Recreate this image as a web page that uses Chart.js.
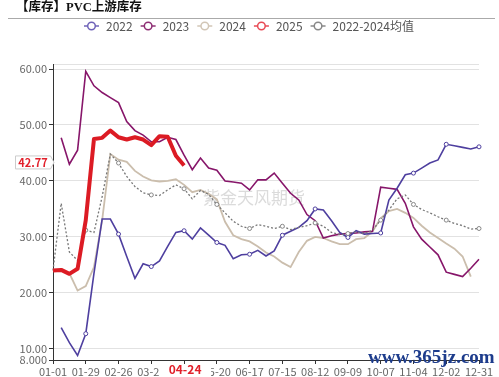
<!DOCTYPE html>
<html lang="zh-CN">
<head>
<meta charset="utf-8">
<title>PVC上游库存</title>
<script src="https://cdn.jsdelivr.net/npm/chart.js@4.4.1/dist/chart.umd.min.js"></script>
<style>
    html, body { margin: 0; padding: 0; background: #fff; }
    #wrap { position: relative; width: 499px; height: 377px; }
</style>
</head>
<body>
<div id="wrap"><canvas id="invChart" width="499" height="377"></canvas></div>
<script>
// Weekly dates (MM-DD) shown on the x axis
const dates = [
    '01-01', '01-08', '01-15', '01-22', '01-29', '02-05', '02-12', '02-19', '02-26', '03-04',
    '03-11', '03-18', '03-25', '04-01', '04-08', '04-15', '04-22', '04-29', '05-06', '05-13',
    '05-20', '05-27', '06-03', '06-10', '06-17', '06-24', '07-01', '07-08', '07-15', '07-22',
    '07-29', '08-05', '08-12', '08-19', '08-26', '09-02', '09-09', '09-16', '09-23', '09-30',
    '10-07', '10-14', '10-21', '10-28', '11-04', '11-11', '11-18', '11-25', '12-02', '12-09',
    '12-16', '12-23', '12-31'
];

const inv2022 = [
    null, 13.8, 11.1, 8.8, 12.7, 23.5, 33.2, 33.2, 30.5, 26.5,
    22.6, 25.2, 24.7, 25.7, 28.3, 30.8, 31.1, 29.6, 31.6, 30.3,
    29.0, 28.5, 26.1, 26.8, 26.9, 27.6, 26.6, 27.5, 30.3, 31.0,
    31.7, 32.9, 35.0, 34.8, 32.9, 30.8, 29.9, 31.1, 30.5, 30.6,
    30.7, 36.6, 38.7, 41.1, 41.4, 42.3, 43.2, 43.75, 46.55, 46.3,
    46.0, 45.7, 46.1
];

const inv2023 = [
    null, 47.7, 43.0, 45.5, 59.6, 57.0, 55.8, 54.9, 54.0, 50.6,
    49.0, 48.2, 47.0, 47.0, 47.8, 47.4, 44.6, 42.0, 44.1, 42.3,
    41.9, 40.0, 39.8, 39.6, 38.4, 40.2, 40.2, 41.4, 39.6, 37.8,
    36.6, 34.0, 32.9, 29.8, 30.2, 30.5, 30.6, 30.7, 30.9, 31.0,
    38.9, 38.7, 38.5, 36.0, 31.8, 29.6, 28.2, 26.8, 23.7, 23.3,
    22.9, 24.4, 26.0
];

const inv2024 = [
    24.0, 24.1, 23.5, 20.4, 21.2, 24.6, 33.0, 44.8, 43.8, 43.4,
    41.8, 40.8, 40.1, 39.9, 40.0, 40.3, 39.3, 38.0, 38.4, 37.7,
    36.7, 32.7, 30.3, 29.6, 29.2, 28.3, 27.2, 26.5, 25.4, 24.6,
    27.3, 29.3, 30.0, 29.8, 29.2, 28.7, 28.7, 29.6, 29.8, 31.0,
    33.3, 34.6, 35.0, 34.3, 33.4, 32.0, 30.8, 29.8, 28.8, 27.9,
    26.5, 22.9, null
];

const inv2025 = [
    24.0, 24.1, 23.4, 24.3, 33.0, 47.5, 47.7, 49.0, 47.8, 47.4,
    47.8, 47.4, 46.4, 48.0, 47.9, 44.5, 42.77
];

const invAvg = [
    24.0, 36.0, 27.3, 25.8, 31.2, 30.8, 37.2, 44.8, 43.2, 40.8,
    39.0, 37.9, 37.5, 37.4, 38.4, 39.3, 38.6, 36.8, 38.3, 37.6,
    35.8, 34.3, 32.8, 31.9, 31.5, 32.2, 31.9, 31.5, 31.9, 31.3,
    31.7, 32.0, 32.5, 31.9, 30.8, 30.4, 30.6, 30.9, 30.6, 31.2,
    33.0, 34.8, 36.8, 37.5, 35.8, 34.9, 34.3, 33.6, 33.0, 32.4,
    32.0, 31.4, 31.5
];

const yTicks = [8, 10, 20, 30, 40, 50, 60];
const yTickLabels = ['8.000', '10.00', '20.00', '30.00', '40.00', '50.00', '60.00'];

// latest point of 2025
const markIndex = 16;
const markDate = '04-24';
const markValue = 42.77;

const FONT = "'Noto Sans CJK SC', 'Noto Sans', sans-serif";

// Title, legend, watermarks and the marker labels
const decorPlugin = {
    id: 'decor',
    beforeDraw(chart) {
        const ctx = chart.ctx;
        ctx.save();
        ctx.fillStyle = '#fff';
        ctx.fillRect(0, 0, chart.width, chart.height);

        // title
        ctx.fillStyle = '#111';
        ctx.font = "bold 12.5px 'Liberation Serif', 'Noto Sans CJK SC', serif";
        ctx.textBaseline = 'middle';
        ctx.textAlign = 'left';
        ctx.fillText('【库存】PVC上游库存', 16, 8);

        ctx.strokeStyle = '#aaa';
        ctx.lineWidth = 1;
        ctx.beginPath();
        ctx.moveTo(8, 18.5);
        ctx.lineTo(495, 18.5);
        ctx.stroke();

        // legend
        ctx.font = '12px ' + FONT;
        const items = chart.data.datasets.map(ds => ({ label: ds.label, color: ds.legendColor }));
        const widths = items.map(it => 22 + ctx.measureText(it.label).width);
        const gap = 8;
        const total = widths.reduce((a, b) => a + b, 0) + gap * (items.length - 1);
        let x = 249 - total / 2;
        const y = 26;
        items.forEach((it, i) => {
            ctx.strokeStyle = it.color;
            ctx.lineWidth = 1.5;
            ctx.beginPath();
            ctx.moveTo(x, y);
            ctx.lineTo(x + 15, y);
            ctx.stroke();
            ctx.beginPath();
            ctx.arc(x + 7.5, y, 3.8, 0, Math.PI * 2);
            ctx.fillStyle = '#fff';
            ctx.fill();
            ctx.stroke();
            ctx.fillStyle = '#555';
            ctx.fillText(it.label, x + 22, y + 0.5);
            x += widths[i] + gap;
        });
        ctx.restore();
    },
    beforeDatasetsDraw(chart) {
        const ctx = chart.ctx;
        ctx.save();
        ctx.fillStyle = 'rgba(190, 190, 190, 0.55)';
        ctx.font = '17px ' + FONT;
        ctx.textAlign = 'center';
        ctx.textBaseline = 'middle';
        ctx.fillText('紫金天风期货', 254, 198);
        ctx.restore();
    },
    afterDraw(chart) {
        const ctx = chart.ctx;
        const xs = chart.scales.x;
        const ys = chart.scales.y;
        ctx.save();

        // current date label on the x axis
        const mx = xs.getPixelForValue(markIndex) + 1;
        ctx.fillStyle = '#fff';
        ctx.fillRect(mx - 26, 364, 52, 13);
        ctx.fillStyle = '#e1202b';
        ctx.font = 'bold 12px ' + FONT;
        ctx.textAlign = 'center';
        ctx.textBaseline = 'middle';
        ctx.fillText(markDate, mx, 369.5);

        // latest value label on the y axis
        const yc = ys.getPixelForValue(markValue) - 3;
        ctx.beginPath();
        ctx.moveTo(15.5, yc - 6.5);
        ctx.lineTo(50.5, yc - 6.5);
        ctx.lineTo(54, yc);
        ctx.lineTo(50.5, yc + 6.5);
        ctx.lineTo(15.5, yc + 6.5);
        ctx.closePath();
        ctx.fillStyle = '#fff';
        ctx.fill();
        ctx.strokeStyle = '#ccc';
        ctx.lineWidth = 1;
        ctx.stroke();
        ctx.fillStyle = '#e1202b';
        ctx.font = 'bold 11px ' + FONT;
        ctx.fillText(markValue.toFixed(2), 33, yc + 0.5);

        // site watermark
        ctx.fillStyle = '#1d3c8c';
        ctx.font = "bold 19px 'Liberation Serif', serif";
        ctx.textAlign = 'left';
        ctx.textBaseline = 'alphabetic';
        ctx.fillText('www.365jz.com', 368, 363);
        ctx.restore();
    }
};

// small hollow markers every 4th week, none on the first point
function markerRadius(r) {
    return ctx => (ctx.index > 0 && ctx.index % 4 === 0 ? r : 0);
}

function createInventoryChart() {
    const ctx = document.getElementById('invChart').getContext('2d');
    Chart.defaults.font.family = FONT;

    new Chart(ctx, {
        type: 'line',
        data: {
            labels: dates,
            datasets: [
                {
                    label: '2022',
                    data: inv2022,
                    borderColor: '#4e3f9f',
                    legendColor: '#6f63b8',
                    borderWidth: 1.6,
                    pointRadius: markerRadius(2),
                    pointBackgroundColor: '#fff',
                    pointBorderColor: '#4e3f9f',
                    pointBorderWidth: 1,
                    order: 2
                },
                {
                    label: '2023',
                    data: inv2023,
                    borderColor: '#87166a',
                    legendColor: '#8e2f74',
                    borderWidth: 1.6,
                    pointRadius: 0,
                    order: 3
                },
                {
                    label: '2024',
                    data: inv2024,
                    borderColor: '#cbbead',
                    legendColor: '#d2c6b6',
                    borderWidth: 1.8,
                    pointRadius: 0,
                    order: 4
                },
                {
                    label: '2025',
                    data: inv2025,
                    borderColor: '#dc1b24',
                    legendColor: '#e84a55',
                    borderWidth: 4,
                    borderJoinStyle: 'round',
                    pointRadius: 0,
                    order: 0
                },
                {
                    label: '2022-2024均值',
                    data: invAvg,
                    borderColor: '#777',
                    legendColor: '#888',
                    borderWidth: 1.3,
                    borderDash: [2, 2],
                    pointRadius: markerRadius(2),
                    pointBackgroundColor: '#fff',
                    pointBorderColor: '#888',
                    pointBorderWidth: 1,
                    order: 1
                }
            ]
        },
        options: {
            responsive: false,
            animation: false,
            spanGaps: false,
            layout: {
                padding: { top: 64, right: 20, left: 0, bottom: 0 }
            },
            elements: {
                line: { tension: 0 }
            },
            plugins: {
                legend: { display: false },
                tooltip: { enabled: false }
            },
            scales: {
                x: {
                    type: 'category',
                    offset: false,
                    grid: {
                        drawOnChartArea: false,
                        tickLength: 4,
                        tickColor: '#333'
                    },
                    border: { color: '#333', width: 1 },
                    ticks: {
                        autoSkip: false,
                        maxRotation: 0,
                        minRotation: 0,
                        color: '#666',
                        font: { size: 11 },
                        padding: 1,
                        callback: value => (value === markIndex ? '' : dates[value])
                    },
                    afterBuildTicks: scale => {
                        scale.ticks = scale.ticks.filter(t => t.value % 4 === 0);
                    },
                    afterFit: scale => { scale.height = 17; }
                },
                y: {
                    min: 8,
                    max: 60.9,
                    grid: {
                        color: '#e2e2e2',
                        tickLength: 4,
                        tickColor: c => (c.tick && c.tick.value > 60 ? 'rgba(0,0,0,0)' : '#333')
                    },
                    border: { color: '#333', width: 1 },
                    ticks: {
                        color: '#666',
                        font: { size: 11 },
                        padding: 2,
                        callback: value => {
                            const i = yTicks.indexOf(value);
                            return i >= 0 ? yTickLabels[i] : '';
                        }
                    },
                    afterBuildTicks: scale => {
                        scale.ticks = yTicks.concat([scale.max]).map(v => ({ value: v }));
                    },
                    afterFit: scale => { scale.width = 53; }
                }
            }
        },
        plugins: [decorPlugin]
    });
}

document.addEventListener('DOMContentLoaded', createInventoryChart);
</script>
</body>
</html>
